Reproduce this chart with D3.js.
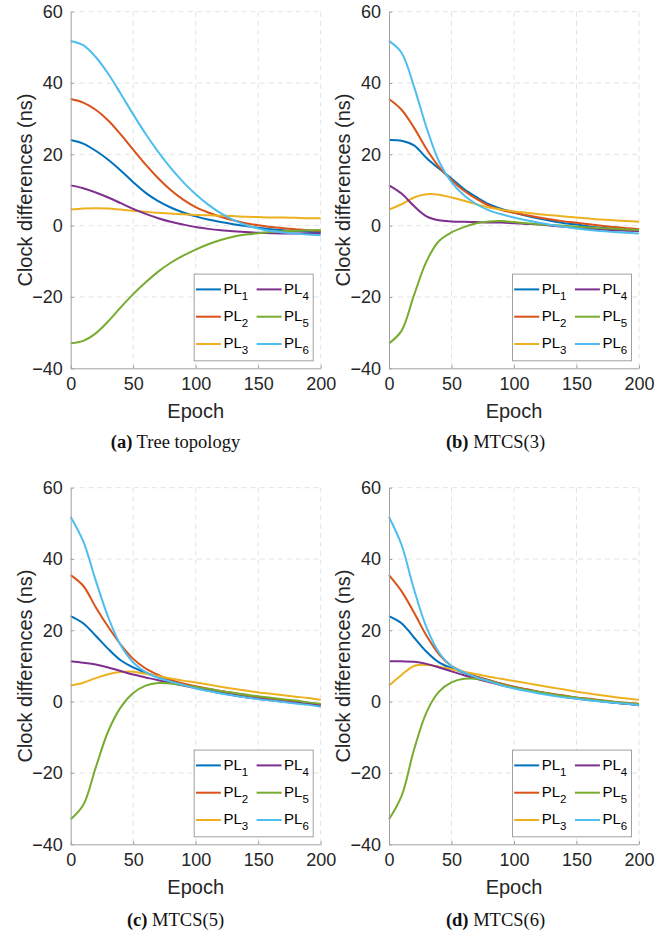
<!DOCTYPE html>
<html>
<head>
<meta charset="utf-8">
<script src="https://cdn.jsdelivr.net/npm/d3@7"></script>
<style>
  body { margin: 0; background: #fff; }
  svg { display: block; }
</style>
</head>
<body>
<script>
// epochs sampled every 10
const epochs = [0,10,20,30,40,50,60,70,80,90,100,110,120,130,140,150,160,170,180,190,200];

const seriesNames = ["PL1", "PL2", "PL3", "PL4", "PL5", "PL6"];
const colors = ["#0072BD", "#D95319", "#EDB120", "#7E2F8E", "#77AC30", "#4DBEEE"];

const xTicks = [0, 50, 100, 150, 200];
const yTicks = [-40, -20, 0, 20, 40, 60];

// (a) Tree topology
const treeData = [
  [24,23,21,18.5,15.5,12.2,9.2,6.9,5.1,3.7,2.6,1.7,1,0.4,-0.1,-0.6,-1,-1.3,-1.5,-1.7,-1.8],
  [35.5,34.5,32.5,29.5,25.6,21.3,17.1,13.3,10,7.3,5.2,3.7,2.5,1.5,0.7,0.1,-0.4,-0.7,-1,-1.3,-1.5],
  [4.5,4.8,4.9,4.8,4.5,4.2,3.9,3.6,3.4,3.2,3,2.9,2.8,2.7,2.5,2.4,2.3,2.3,2.2,2.1,2.1],
  [11.3,10.5,9.3,7.9,6.3,4.7,3.3,2.1,1.1,0.3,-0.4,-0.9,-1.3,-1.6,-1.8,-2,-2.1,-2.2,-2.2,-2.2,-2.2],
  [-33,-32.3,-30.2,-26.8,-22.9,-19.2,-15.9,-12.9,-10.4,-8.4,-6.7,-5.2,-4,-3.1,-2.5,-2.1,-1.8,-1.6,-1.4,-1.3,-1.2],
  [51.8,50.6,47.3,42.6,37,31.2,25.7,20.7,16.2,12.2,8.8,5.9,3.5,1.6,0.2,-0.8,-1.5,-1.9,-2.2,-2.5,-2.7]
];

// (b) MTCS(3)
const mtcs3Data = [
  [24,23.8,22.5,19,16,13.2,10.3,8,6,4.7,3.7,2.8,2,1.3,0.7,0.3,-0.2,-0.6,-0.9,-1.2,-1.4],
  [35.5,32.5,27.5,21.5,16.5,12.8,9.8,7.5,5.6,4.4,3.6,2.9,2.3,1.7,1.2,0.8,0.4,0,-0.4,-0.7,-1],
  [4.5,6,7.9,8.8,8.7,7.9,7,6,5.1,4.5,4,3.6,3.2,2.9,2.6,2.3,2,1.7,1.5,1.3,1.1],
  [11.3,9,5.5,2.6,1.5,1.2,1.1,1,0.9,0.9,0.7,0.5,0.3,0,-0.3,-0.6,-0.9,-1.1,-1.3,-1.4,-1.5],
  [-33,-29.5,-19.5,-10,-4.3,-1.9,-0.4,0.7,1.2,1.3,1,0.7,0.4,0.2,0,-0.3,-0.5,-0.7,-0.9,-1.1,-1.2],
  [51.8,48.5,39,27.5,18,12.2,8.5,6,4.3,3.2,2.3,1.5,0.8,0.2,-0.3,-0.8,-1.2,-1.5,-1.8,-2,-2.2]
];

// (c) MTCS(5)
const mtcs5Data = [
  [24,22,18.5,14.8,11.6,9.6,8.1,6.9,5.9,4.9,4,3.3,2.6,2,1.4,0.9,0.5,0.1,-0.3,-0.6,-1],
  [35.5,32.5,26.5,21,16,12,9.3,7.5,6.1,5.1,4.3,3.6,3,2.4,1.8,1.3,0.8,0.4,0,-0.4,-0.8],
  [4.5,5.3,6.6,7.7,8.3,8.4,7.8,7.1,6.5,5.9,5.4,4.8,4.2,3.6,3.1,2.6,2.2,1.8,1.4,1,0.5],
  [11.3,10.9,10.4,9.6,8.6,7.6,6.8,6,5.3,4.5,3.8,3.1,2.4,1.8,1.2,0.8,0.4,0,-0.3,-0.6,-1],
  [-33,-29,-18.5,-8.3,-1.6,2.4,4.5,5.2,5.1,4.6,4.1,3.6,3,2.5,2,1.5,1.1,0.7,0.3,-0.2,-0.6],
  [51.8,45,34,23.7,15.8,11,8.3,6.7,5.6,4.7,3.7,3,2.3,1.7,1.2,0.7,0.3,-0.1,-0.5,-0.9,-1.4]
];

// (d) MTCS(6)
const mtcs6Data = [
  [24,22,18,14,11,9.4,8.1,7,6,5,4.1,3.4,2.7,2.1,1.5,1,0.5,0.1,-0.3,-0.6,-0.9],
  [35.5,31,25,18.5,13.3,10,8.3,7,6,5,4.2,3.5,2.8,2.2,1.7,1.2,0.8,0.4,0,-0.3,-0.6],
  [4.5,7.5,10,10.3,9.8,9.1,8.4,7.7,7,6.4,5.8,5.2,4.6,4,3.4,2.8,2.3,1.8,1.3,0.9,0.5],
  [11.3,11.3,11.2,10.6,9.6,8.5,7.4,6.4,5.5,4.6,3.9,3.2,2.6,2,1.4,0.9,0.5,0.1,-0.3,-0.6,-1],
  [-33,-26.5,-13.5,-3,2.8,5.4,6.4,6.4,5.8,4.8,4,3.3,2.7,2.1,1.6,1.1,0.7,0.3,-0.1,-0.4,-0.7],
  [51.8,44,31.5,20.8,13.8,10,8.2,6.8,5.7,4.6,3.7,3,2.3,1.7,1.2,0.8,0.4,0,-0.3,-0.6,-1]
];

const panels = [
  { data: treeData,  tag: "(a)", title: " Tree topology", left: 70.7, top: 11.7,  capX: 175.5, capY: 447.5 },
  { data: mtcs3Data, tag: "(b)", title: " MTCS(3)",       left: 389,  top: 11.7,  capX: 495.5, capY: 447.5 },
  { data: mtcs5Data, tag: "(c)", title: " MTCS(5)",       left: 70.7, top: 487.7, capX: 175.5, capY: 925.5 },
  { data: mtcs6Data, tag: "(d)", title: " MTCS(6)",       left: 389,  top: 487.7, capX: 495.5, capY: 925.5 }
];

const W = 671, H = 933;
const pw = 250, ph = 356.6;
const sans = "'Liberation Sans', Arial, Helvetica, sans-serif";
const serif = "'Liberation Serif', 'Times New Roman', serif";

const svg = d3.select("body").append("svg")
  .attr("width", W)
  .attr("height", H);

panels.forEach(p => {
  const g = svg.append("g").attr("transform", "translate(" + p.left + "," + p.top + ")");

  const x = d3.scaleLinear().domain([0, 200]).range([0, pw]);
  const y = d3.scaleLinear().domain([-40, 60]).range([ph, 0]);

  // grid
  g.append("g").selectAll("line").data(xTicks.slice(1)).enter().append("line")
    .attr("x1", d => x(d)).attr("x2", d => x(d))
    .attr("y1", 0).attr("y2", ph)
    .attr("stroke", "#e3e3e3").attr("stroke-dasharray", "5,4");
  g.append("g").selectAll("line").data(yTicks.slice(1)).enter().append("line")
    .attr("x1", 0).attr("x2", pw)
    .attr("y1", d => y(d)).attr("y2", d => y(d))
    .attr("stroke", "#e3e3e3").attr("stroke-dasharray", "5,4");

  // courbes
  const line = d3.line()
    .x((d, i) => x(epochs[i]))
    .y(d => y(d))
    .curve(d3.curveCatmullRom.alpha(0.5));

  p.data.forEach((s, k) => {
    g.append("path")
      .attr("d", line(s))
      .attr("fill", "none")
      .attr("stroke", colors[k])
      .attr("stroke-width", 2);
  });

  // axes
  const xAxis = d3.axisBottom(x).tickValues(xTicks).tickSizeInner(-3).tickSizeOuter(0).tickPadding(9);
  const yAxis = d3.axisLeft(y).tickValues(yTicks).tickSizeInner(-3).tickSizeOuter(0).tickPadding(8);

  const gx = g.append("g").attr("transform", "translate(0," + ph + ")").call(xAxis);
  const gy = g.append("g").call(yAxis);
  [gx, gy].forEach(a => {
    a.select(".domain").attr("stroke", "#a0a0a0");
    a.selectAll(".tick line").attr("stroke", "#a0a0a0");
    a.selectAll(".tick text")
      .attr("font-family", sans)
      .attr("font-size", 18)
      .attr("fill", "#262626");
  });

  // axis labels
  g.append("text")
    .attr("x", pw / 2).attr("y", ph + 50)
    .attr("text-anchor", "middle")
    .attr("font-family", sans).attr("font-size", 20).attr("fill", "#262626")
    .text("Epoch");
  g.append("text")
    .attr("transform", "translate(-39," + (ph / 2) + ") rotate(-90)")
    .attr("text-anchor", "middle")
    .attr("font-family", sans).attr("font-size", 20).attr("fill", "#262626")
    .text("Clock differences (ns)");

  // legend
  const lw = 119, lh = 86.7;
  const lg = g.append("g").attr("transform", "translate(" + (pw - 7.5 - lw) + "," + (ph - 7.5 - lh) + ")");
  lg.append("rect").attr("width", lw).attr("height", lh)
    .attr("fill", "#fff").attr("stroke", "#a0a0a0").attr("stroke-width", 1);
  seriesNames.forEach((name, k) => {
    const col = Math.floor(k / 3), row = k % 3;
    const ox = col === 0 ? 1.7 : 62.4;
    const ly = 15.3 + row * 27.3;
    lg.append("line")
      .attr("x1", ox).attr("x2", ox + 25)
      .attr("y1", ly).attr("y2", ly)
      .attr("stroke", colors[k]).attr("stroke-width", 2);
    const t = lg.append("text")
      .attr("x", ox + 27.5).attr("y", ly + 4.5)
      .attr("font-family", sans).attr("font-size", 15).attr("fill", "#000");
    t.append("tspan").text("PL");
    t.append("tspan").attr("font-size", 11.5).attr("dy", 6).text(name.slice(2));
  });

  // caption
  const cap = svg.append("text")
    .attr("x", p.capX).attr("y", p.capY)
    .attr("text-anchor", "middle")
    .attr("font-family", serif).attr("font-size", 18.5).attr("fill", "#111");
  cap.append("tspan").attr("font-weight", "bold").text(p.tag);
  cap.append("tspan").text(p.title);
});
</script>
</body>
</html>
